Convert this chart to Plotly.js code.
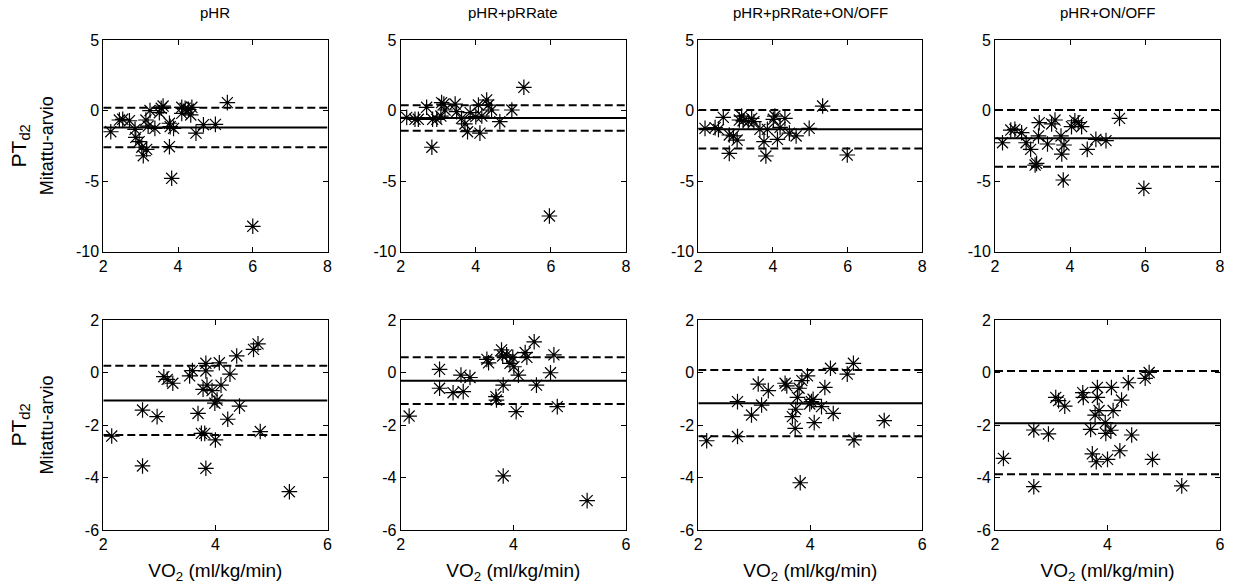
<!DOCTYPE html>
<html>
<head>
<meta charset="utf-8">
<script src="https://cdn.plot.ly/plotly-3.0.1.min.js"></script>
<style>html,body{margin:0;padding:0;background:#fff;}#chart{width:1237px;height:586px;}</style>
</head>
<body>
<div id="chart"></div>
<script>
// ---- Data ----
const panelTitles = ['pHR', 'pHR+pRRate', 'pHR+pRRate+ON/OFF', 'pHR+ON/OFF'];

// Top row (x: VO2, y: measured - estimate)
const top1X = [2.2,2.43,2.52,2.7,2.85,2.87,2.96,3.03,3.07,3.16,3.14,3.2,3.25,3.38,3.5,3.55,3.6,3.77,3.79,3.77,3.83,3.88,4.1,4.1,4.19,4.28,4.34,4.37,4.48,4.68,5.0,5.32,6.0];
const top1Y = [-1.5,-0.67,-0.62,-0.72,-1.33,-1.9,-2.2,-2.6,-3.2,-2.75,-0.67,-1.1,0.0,-1.26,-0.15,0.16,0.32,-0.9,-1.14,-2.56,-4.8,-1.26,0.23,-0.2,0.16,0.09,-0.31,0.23,-1.6,-1.0,-0.98,0.56,-8.2];

const top2X = [2.16,2.38,2.47,2.69,2.83,2.85,2.96,3.07,3.09,3.15,3.18,3.45,3.49,3.62,3.71,3.78,3.85,4.0,4.07,4.11,4.16,4.29,4.33,4.42,4.64,4.96,5.28,5.96];
const top2Y = [-0.48,-0.62,-0.62,0.23,-2.6,-0.62,-0.62,-0.39,0.56,0.46,0.04,0.46,-0.08,-0.55,-0.95,-1.5,-0.15,-0.43,0.39,-1.6,-0.39,0.75,0.39,0.04,-0.79,0.04,1.65,-7.47];

const top3X = [2.18,2.45,2.54,2.67,2.83,2.83,2.94,3.04,3.1,3.16,3.2,3.34,3.43,3.49,3.65,3.76,3.81,3.85,4.01,4.05,4.12,4.19,4.32,4.44,4.62,4.97,5.33,5.99];
const top3Y = [-1.26,-1.21,-1.33,-0.48,-1.73,-3.03,-1.8,-2.09,-0.67,-0.39,-0.72,-0.79,-0.55,-0.79,-1.33,-2.2,-3.22,-1.33,-0.62,-0.39,-2.04,-1.19,-0.55,-1.6,-1.8,-1.26,0.32,-3.15];

const top4X = [2.2,2.42,2.53,2.71,2.83,2.95,3.07,3.11,3.18,3.16,3.4,3.51,3.6,3.76,3.78,3.82,3.84,4.04,4.13,4.22,4.31,4.46,4.69,4.96,5.32,5.97];
const top4Y = [-2.28,-1.38,-1.33,-1.57,-2.28,-2.75,-3.86,-3.74,-0.86,-1.8,-2.37,-0.95,-0.67,-1.8,-3.08,-4.92,-2.44,-1.14,-0.72,-0.86,-1.14,-2.75,-2.04,-2.13,-0.55,-5.51];

// Bottom row
const bot1X = [2.15,2.7,2.7,2.96,3.08,3.14,3.24,3.54,3.59,3.69,3.75,3.78,3.81,3.83,3.83,3.83,3.85,3.94,3.99,4.0,4.03,4.07,4.1,4.22,4.26,4.38,4.43,4.68,4.76,4.8,5.32];
const bot1Y = [-2.42,-1.43,-3.56,-1.68,-0.16,-0.26,-0.41,-0.13,0.07,-1.56,-2.32,-0.64,-2.32,0.35,0.06,-3.65,-0.48,-0.69,-1.17,-2.57,-1.05,0.37,-0.48,-1.78,-0.06,0.63,-1.28,0.88,1.09,-2.25,-4.54];

const bot2X = [2.15,2.69,2.69,2.93,3.07,3.11,3.23,3.53,3.56,3.69,3.7,3.79,3.81,3.82,3.82,3.88,3.94,3.99,4.01,4.05,4.09,4.21,4.24,4.37,4.41,4.66,4.72,4.78,5.31];
const bot2Y = [-1.66,0.12,-0.6,-0.77,-0.1,-0.73,-0.19,0.5,0.37,-0.92,-1.05,0.86,0.63,-0.48,-3.94,0.67,0.35,0.58,0.22,-1.49,-0.1,0.76,0.58,1.17,-0.48,-0.01,0.67,-1.3,-4.88];

const bot3X = [2.15,2.7,2.7,2.95,3.07,3.13,3.25,3.55,3.58,3.68,3.73,3.74,3.77,3.8,3.82,3.85,3.95,3.99,4.02,4.05,4.07,4.2,4.26,4.36,4.41,4.66,4.77,4.78,5.32];
const bot3Y = [-2.6,-1.11,-2.44,-1.62,-0.44,-1.24,-0.69,-0.41,-0.51,-1.68,-2.13,-1.4,-0.95,-0.6,-4.2,-0.31,-0.13,-1.2,-1.11,-1.02,-1.91,-1.3,-0.57,0.16,-1.56,-0.06,0.35,-2.57,-1.83];

const bot4X = [2.15,2.69,2.69,2.95,3.08,3.13,3.24,3.56,3.57,3.7,3.73,3.78,3.8,3.82,3.82,3.85,3.96,3.97,4.0,4.06,4.07,4.1,4.22,4.25,4.37,4.43,4.67,4.74,4.8,5.32];
const bot4Y = [-3.27,-2.19,-4.35,-2.34,-0.95,-1.07,-1.28,-0.77,-0.95,-2.17,-3.1,-1.62,-3.4,-0.57,-0.95,-1.45,-1.91,-2.32,-3.31,-2.2,-0.57,-1.45,-2.98,-1.05,-0.39,-2.38,-0.22,0.0,-3.31,-4.32];

// Bland-Altman lines: mean and limits of agreement
const topMean  = [-1.2, -0.53, -1.32, -1.97];
const topUpper = [0.2, 0.37, 0.04, 0.04];
const topLower = [-2.6, -1.43, -2.68, -3.98];
const botMean  = [-1.07, -0.31, -1.17, -1.93];
const botUpper = [0.26, 0.58, 0.1, 0.06];
const botLower = [-2.38, -1.2, -2.43, -3.88];

const topXTicks = [2, 4, 6, 8];
const topYTicks = [-10, -5, 0, 5];
const botXTicks = [2, 4, 6];
const botYTicks = [-6, -4, -2, 0, 2];

const xLabel = 'VO<sub>2</sub> (ml/kg/min)';
const yLabel = 'PT<sub>d2</sub><br><span style="font-size:18px">Mitattu-arvio</span>';

// ---- Build ----
const W = 1237, H = 586;
const colPx = [[103.3, 327.5], [400.7, 626], [698.3, 922.3], [995, 1220]];
const topRowPx = [40, 251.7];
const botRowPx = [320, 530];
const FONT = 'Arial, "Liberation Sans", Helvetica, sans-serif';

const topData = [[top1X, top1Y], [top2X, top2Y], [top3X, top3Y], [top4X, top4Y]];
const botData = [[bot1X, bot1Y], [bot2X, bot2Y], [bot3X, bot3Y], [bot4X, bot4Y]];

const traces = [];
const layout = {
  width: W, height: H,
  margin: {l: 0, r: 0, t: 0, b: 0},
  paper_bgcolor: '#fff', plot_bgcolor: '#fff',
  showlegend: false,
  font: {family: FONT, size: 15, color: '#000'},
  annotations: []
};

function axisCommon() {
  return {
    showline: true, linecolor: '#000', linewidth: 1, mirror: 'ticks',
    ticks: 'inside', ticklen: 5, tickwidth: 1, tickcolor: '#000',
    showgrid: false, zeroline: false, fixedrange: true, automargin: false,
    tickfont: {family: FONT, size: 16, color: '#000'}
  };
}

function addPanel(idx, data, rowPx, xr, yr, xt, yt, mean, up, lo) {
  const n = idx + 1;
  const sfx = n === 1 ? '' : String(n);
  const xa = 'x' + sfx, ya = 'y' + sfx;
  const col = colPx[idx % 4];
  const xd = [col[0] / W, col[1] / W];
  const yd = [(H - rowPx[1]) / H, (H - rowPx[0]) / H];
  const xax = Object.assign(axisCommon(), {
    domain: xd, range: xr, tickmode: 'array', tickvals: xt, ticktext: xt.map(String), anchor: ya
  });
  const yax = Object.assign(axisCommon(), {
    domain: yd, range: yr, tickmode: 'array', tickvals: yt, ticktext: yt.map(String), anchor: xa
  });
  if (idx >= 4) {
    xax.title = {text: xLabel, font: {family: FONT, size: 19, color: '#000'}, standoff: 11};
  }
  if (idx === 0 || idx === 4) {
    yax.title = {text: yLabel, font: {family: FONT, size: 21, color: '#000'}, standoff: idx === 0 ? 16 : 25};
  }
  layout['xaxis' + sfx] = xax;
  layout['yaxis' + sfx] = yax;
  // reference lines
  [[mean, 'solid'], [up, '8px,4px'], [lo, '8px,4px']].forEach(([v, d]) => {
    traces.push({
      x: xr, y: [v, v], xaxis: xa, yaxis: ya, mode: 'lines',
      line: {color: '#000', width: 2, dash: d}, hoverinfo: 'skip'
    });
  });
  traces.push({
    x: data[0], y: data[1], xaxis: xa, yaxis: ya, mode: 'markers',
    marker: {symbol: 'asterisk-open', size: 13, color: '#000', line: {color: '#000', width: 1.2}}
  });
}

for (let i = 0; i < 4; i++) {
  addPanel(i, topData[i], topRowPx, [2, 8], [-10, 5], topXTicks, topYTicks, topMean[i], topUpper[i], topLower[i]);
  addPanel(i + 4, botData[i], botRowPx, [2, 6], [-6, 2], botXTicks, botYTicks, botMean[i], botUpper[i], botLower[i]);
  const cx = (colPx[i][0] + colPx[i][1]) / 2 / W;
  layout.annotations.push({
    text: panelTitles[i], xref: 'paper', yref: 'paper', x: cx, y: (H - 13) / H,
    xanchor: 'center', yanchor: 'middle', showarrow: false, font: {family: FONT, size: 15, color: '#000'}
  });
}

Plotly.newPlot('chart', traces, layout, {staticPlot: true, displayModeBar: false});
</script>
</body>
</html>
